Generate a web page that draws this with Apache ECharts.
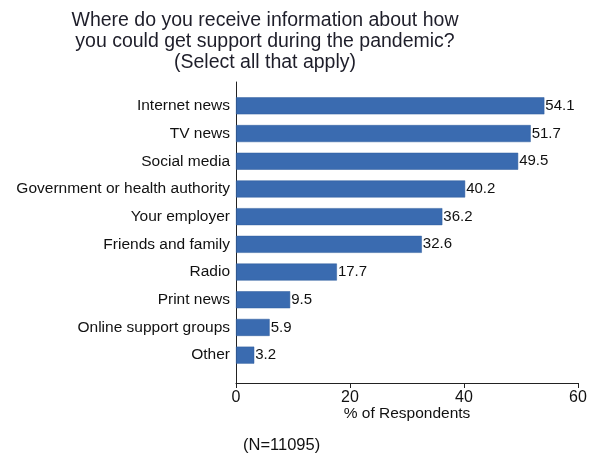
<!DOCTYPE html>
<html><head><meta charset="utf-8">
<script src="https://cdn.jsdelivr.net/npm/echarts@6/dist/echarts.min.js"></script>
<style>html,body{margin:0;padding:0;background:#fff}#c{width:590px;height:454px}</style>
</head><body><div id="c"></div>
<script>
const categories = ["Internet news","TV news","Social media","Government or health authority","Your employer","Friends and family","Radio","Print news","Online support groups","Other"];
const values = [54.1,51.7,49.5,40.2,36.2,32.6,17.7,9.5,5.9,3.2];
const xTicks = [0,20,40,60];
const titleText = "Where do you receive information about how\nyou could get support during the pandemic?\n(Select all that apply)";
const xName = "% of Respondents";
const note = "(N=11095)";

const font = "Liberation Sans, Arial, sans-serif";
const chart = echarts.init(document.getElementById('c'));
chart.setOption({
  animation:false,
  title:[{text:titleText,left:260,textAlign:'center',top:5,
    textStyle:{fontFamily:font,fontSize:19.5,fontWeight:'normal',color:'#1e1e2a',lineHeight:21}},
    {text:note,left:238,top:432,textStyle:{fontFamily:font,fontSize:16.5,fontWeight:'normal',color:'#111'}}],
  grid:[{left:236,right:12,top:82,bottom:71},{left:236,right:12,top:92,bottom:85}],
  xAxis:[{gridIndex:0,type:'value',min:xTicks[0],max:xTicks[xTicks.length-1],interval:20,
    name:xName,nameLocation:'middle',nameGap:23,nameMoveOverlap:false,nameTextStyle:{fontFamily:font,fontSize:15.5,color:'#111'},
    axisLine:{show:true,lineStyle:{color:'#222',width:1}},axisTick:{show:true,length:5,lineStyle:{color:'#222'}},
    axisLabel:{fontFamily:font,fontSize:16,color:'#111',margin:7},splitLine:{show:false}},
    {gridIndex:1,type:'value',min:0,max:60,show:false}],
  yAxis:[{gridIndex:0,type:'value',min:0,max:1,axisLine:{show:true,lineStyle:{color:'#222'}},axisTick:{show:false},axisLabel:{show:false},splitLine:{show:false}},
    {gridIndex:1,type:'category',data:categories,inverse:true,axisLine:{show:false},axisTick:{show:false},
    axisLabel:{fontFamily:font,fontSize:15.5,color:'#111',margin:6}}],
  series:[{type:'bar',xAxisIndex:1,yAxisIndex:1,data:values,barWidth:17,
    itemStyle:{color:'#3a6bb0',borderColor:'#2f5c9c',borderWidth:0.5},
    label:{show:true,position:'right',distance:1,fontFamily:font,fontSize:15,color:'#111',formatter:p=>p.value.toFixed(1)}}]
});
</script></body></html>
